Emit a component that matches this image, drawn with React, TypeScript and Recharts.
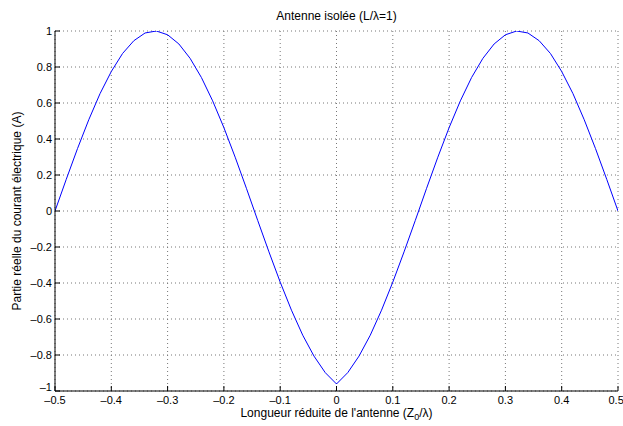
import React from "react";
import {
  LineChart,
  Line,
  XAxis,
  YAxis,
  CartesianGrid,
} from "recharts";

// Position réduite le long de l'antenne (Z0/λ)
const zPositions = [
  -0.5, -0.48, -0.46, -0.44, -0.42, -0.4, -0.38, -0.36, -0.34, -0.32, -0.3,
  -0.28, -0.26, -0.24, -0.22, -0.2, -0.18, -0.16, -0.14, -0.12, -0.1, -0.08,
  -0.06, -0.04, -0.02, 0, 0.02, 0.04, 0.06, 0.08, 0.1, 0.12, 0.14, 0.16, 0.18,
  0.2, 0.22, 0.24, 0.26, 0.28, 0.3, 0.32, 0.34, 0.36, 0.38, 0.4, 0.42, 0.44,
  0.46, 0.48, 0.5,
];

// Partie réelle du courant (A)
const currentValues = [
  0, 0.176, 0.347, 0.507, 0.652, 0.775, 0.875, 0.946, 0.989, 1.0, 0.979,
  0.928, 0.848, 0.742, 0.612, 0.463, 0.299, 0.126, -0.052, -0.227, -0.395,
  -0.551, -0.69, -0.806, -0.898, -0.961, -0.898, -0.806, -0.69, -0.551, -0.395,
  -0.227, -0.052, 0.126, 0.299, 0.463, 0.612, 0.742, 0.848, 0.928, 0.979, 1.0,
  0.989, 0.946, 0.875, 0.775, 0.652, 0.507, 0.347, 0.176, 0,
];

const xTicks = [-0.5, -0.4, -0.3, -0.2, -0.1, 0, 0.1, 0.2, 0.3, 0.4, 0.5];
const yTicks = [-1, -0.8, -0.6, -0.4, -0.2, 0, 0.2, 0.4, 0.6, 0.8, 1];

const data = zPositions.map((z, i) => ({ z, courant: currentValues[i] }));

const FONT = '"Liberation Sans", Arial, Helvetica, sans-serif';

// style matlab : signe moins long
const fmt = (v: number) => String(v).replace("-", "\u2013");

// tick Y : le -1 est remonté un peu comme dans matlab
const YTick = ({ x, y, payload }: any) => (
  <text
    x={x}
    y={payload.value === -1 ? y - 4 : y}
    dy="0.355em"
    textAnchor="end"
    fill="#000"
    fontSize={11}
    fontFamily={FONT}
  >
    {fmt(payload.value)}
  </text>
);

export default function App() {
  return (
    <div
      style={{
        position: "absolute",
        left: 0,
        top: 0,
        width: 623,
        height: 426,
        background: "#fff",
        fontFamily: FONT,
      }}
    >
      <LineChart
        width={623}
        height={426}
        data={data}
        margin={{ top: 31, right: 5, bottom: 15, left: 15 }}
      >
        <CartesianGrid
          stroke="#777"
          strokeDasharray="1 3"
          verticalValues={xTicks}
          horizontalValues={yTicks}
        />
        <XAxis
          dataKey="z"
          type="number"
          domain={[-0.5, 0.5]}
          ticks={xTicks}
          tickFormatter={fmt}
          height={20}
          tickSize={-5}
          tickMargin={10}
          stroke="#000"
          tick={{ fill: "#000", fontSize: 11, fontFamily: FONT }}
          allowDataOverflow
        />
        <XAxis
          xAxisId="top"
          orientation="top"
          dataKey="z"
          type="number"
          domain={[-0.5, 0.5]}
          ticks={xTicks}
          tickFormatter={() => ""}
          height={0}
          tickSize={-5}
          stroke="#000"
        />
        <YAxis
          type="number"
          domain={[-1, 1]}
          ticks={yTicks}
          width={40}
          tickSize={-5}
          tickMargin={8}
          stroke="#000"
          tick={<YTick />}
          allowDataOverflow
        />
        <YAxis
          yAxisId="right"
          orientation="right"
          type="number"
          domain={[-1, 1]}
          ticks={yTicks}
          tickFormatter={() => ""}
          width={0}
          tickSize={-5}
          stroke="#000"
        />
        <Line
          dataKey="courant"
          type="linear"
          stroke="#0000ff"
          strokeWidth={1}
          dot={false}
          isAnimationActive={false}
        />
      </LineChart>
      <div
        style={{
          position: "absolute",
          left: 55,
          width: 563,
          top: 9,
          textAlign: "center",
          fontSize: 12,
          lineHeight: "14px",
        }}
      >
        Antenne isolée (L/λ=1)
      </div>
      <div
        style={{
          position: "absolute",
          left: 55,
          width: 563,
          top: 406,
          textAlign: "center",
          fontSize: 12,
          lineHeight: "14px",
        }}
      >
        Longueur réduite de l'antenne (Z
        <sub style={{ fontSize: 9, lineHeight: 0 }}>0</sub>/λ)
      </div>
      <div
        style={{
          position: "absolute",
          left: 17,
          top: 211,
          transform: "translate(-50%, -50%) rotate(-90deg)",
          whiteSpace: "nowrap",
          fontSize: 12,
          lineHeight: "14px",
        }}
      >
        Partie réelle du courant électrique (A)
      </div>
    </div>
  );
}
